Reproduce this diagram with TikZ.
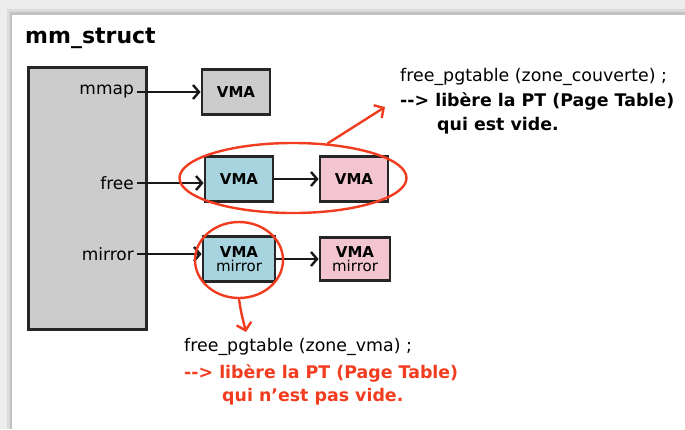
\documentclass[tikz,border=0pt]{standalone}
\usepackage{fontspec}
\setmainfont{DejaVu Sans}
\usetikzlibrary{arrows.meta,shapes.geometric}

\definecolor{vmagray}{HTML}{CCCCCC}
\definecolor{vmablue}{HTML}{A8D4DF}
\definecolor{vmapink}{HTML}{F3C5D1}
\definecolor{markred}{HTML}{F23C1F}

\tikzset{
  vmabox/.style={draw=black!85, line width=2.8pt, minimum width=68pt, minimum height=45pt,
    inner sep=0pt, align=center, font=\fontsize{15}{17}\selectfont\bfseries},
  field/.style={anchor=east, inner sep=0pt, font=\fontsize{17}{20}\selectfont},
  link/.style={black!90, line width=2.8pt, -{Straight Barb[length=6pt,width=14pt,line width=2.4pt]}},
  ring/.style={ellipse, draw=markred, line width=2.4pt, inner sep=0pt},
  pointer/.style={markred, line width=2.4pt, -{Straight Barb[length=7pt,width=15pt,line width=2.4pt]}},
  note/.style={anchor=west, inner sep=0pt, font=\fontsize{17.4}{20}\selectfont},
}

\begin{document}
\begin{tikzpicture}[x=1pt,y=-1pt]
\useasboundingbox (0,0) rectangle (685,429);

% panel with its shadow
\fill[black!7] (0,0) rectangle (685,429);
\fill[black!14] (7,9) rectangle (685,429);
\fill[black!24] (10,12) rectangle (685,429);
\fill[white] (12,15) rectangle (685,429);

\node[anchor=west, inner sep=0pt, font=\fontsize{22}{24}\selectfont\bfseries] (title) at (25,38) {mm\_struct};

% the mm_struct itself
\node[draw=black!85, fill=vmagray, line width=3pt, minimum width=118pt, minimum height=262pt] (mm) at (87,198) {};

\node[field] (mmap) at (134,92) {mmap};
\node[field] (free) at (134,183) {free};
\node[field] (mirror) at (134,254) {mirror};

% the VMAs
\node[vmabox, fill=vmagray] (vma) at (236,92) {VMA};
\node[vmabox, fill=vmablue] (freea) at (239,179) {VMA};
\node[vmabox, fill=vmapink] (freeb) at (354,179) {VMA};
\node[vmabox, fill=vmablue, minimum width=72pt] (mira) at (239,259) {VMA\\[-3pt]\mdseries mirror};
\node[vmabox, fill=vmapink, minimum width=70pt, minimum height=43pt] (mirb) at (355,259) {VMA\\[-3pt]\mdseries mirror};

\draw[link] (mmap.east) ++(3,0) -- (mmap.east -| vma.west);
\draw[link] (free.east) ++(3,0) -- (free.east -| freea.west);
\draw[link] (mirror.east) ++(3,0) -- (mirror.east -| mira.west);
\draw[link] (freea) -- (freeb);
\draw[link] (mira) -- (mirb);

% what gets freed
\node[ring, minimum width=227pt, minimum height=70pt] (freering) at (293,178) {};
\node[ring, minimum width=88pt, minimum height=76pt] (mirring) at (239,260) {};

\node[note] (upa) at (400,77) {free\_pgtable (zone\_couverte) ;};
\node[note, font=\fontsize{17.4}{20}\selectfont\bfseries] (upb) at (400,101) {-{}-> libère la PT (Page Table)};
\node[note, font=\fontsize{17.4}{20}\selectfont\bfseries] (upc) at (437,126) {qui est vide.};

\node[note] (lowa) at (184,347) {free\_pgtable (zone\_vma) ;};
\node[note, text=markred, font=\fontsize{17.4}{20}\selectfont\bfseries] (lowb) at (184,373) {-{}-> libère la PT (Page Table)};
\node[note, text=markred, font=\fontsize{17.4}{20}\selectfont\bfseries] (lowc) at (222,397) {qui n'est pas vide.};

\coordinate (uptip) at (385,107);
\coordinate (lowtip) at (246,332);
\draw[pointer] (freering.45) -- (uptip);
\draw[pointer] (mirring.south) .. controls (241,312) .. (lowtip);
\end{tikzpicture}
\end{document}
